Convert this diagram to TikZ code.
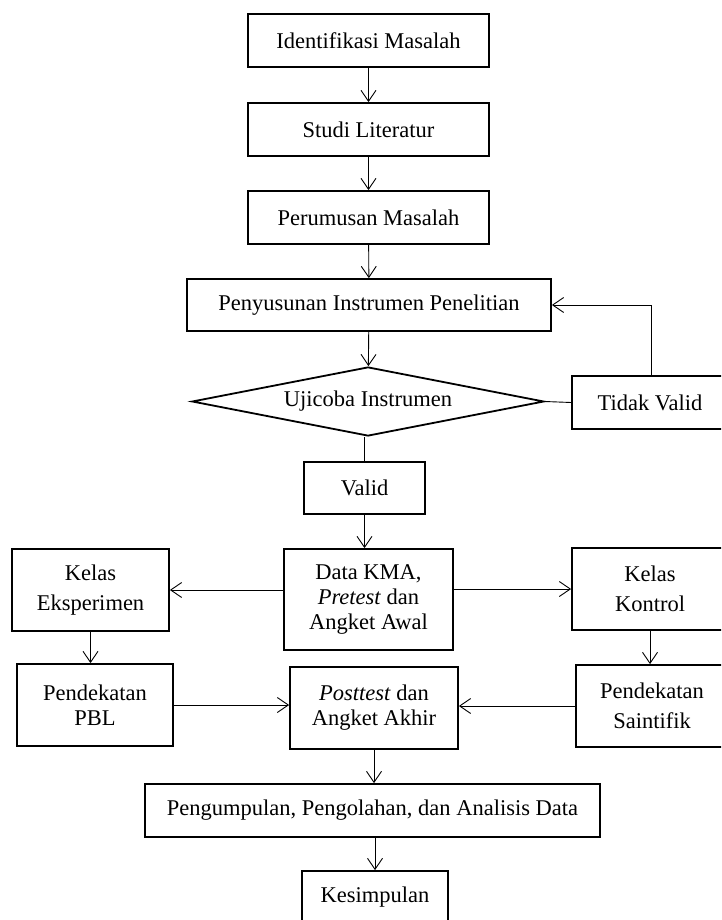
\documentclass[tikz,border=0pt]{standalone}
\usepackage{fontspec}
\setmainfont{Liberation Serif}
\usepackage{tikz}
\usetikzlibrary{arrows.meta, shapes.geometric}
\tikzset{
  procbox/.style={draw, line width=1.8pt, align=center, inner sep=0pt,
    font=\fontsize{22.5}{25}\selectfont},
  widebox/.style={procbox, font=\fontsize{22.5}{30}\selectfont},
  decbox/.style={draw, diamond, line width=1.8pt, inner sep=0pt, aspect=5.1,
    minimum width=352pt, minimum height=69pt, font=\fontsize{22.5}{25}\selectfont},
  flowarr/.style={-{Straight Barb[length=11pt, width=15pt]}, line width=0.9pt},
  flowline/.style={line width=0.9pt},
}

\begin{document}
\begin{tikzpicture}[x=1pt, y=-1pt]
    \useasboundingbox (0,0) rectangle (721,920);
    \clip (0,0) rectangle (721,920);
    \node[procbox, minimum width=241pt, minimum height=53pt] (ident) at (368.5,40.5) {Identifikasi Masalah};
    \node[procbox, minimum width=241pt, minimum height=53pt] (studi) at (368.5,129.5) {Studi Literatur};
    \node[procbox, minimum width=241pt, minimum height=53pt] (rumus) at (368.5,217.5) {Perumusan Masalah};
    \node[procbox, minimum width=364pt, minimum height=52pt] (susun) at (369,305) {Penyusunan Instrumen Penelitian};
    \node[decbox] (uji) at (368,401.5) {Ujicoba Instrumen};
    \node[procbox, minimum width=180pt, minimum height=53pt] (tidak) at (662,402.5)
      {Tidak Valid\hspace*{24pt}};
    \node[procbox, minimum width=121pt, minimum height=52pt] (valid) at (364.5,488) {Valid};
    \node[procbox, minimum width=169pt, minimum height=101pt] (data) at (368.5,599.5)
      {Data KMA,\\\textit{Pretest} dan\\Angket Awal};
    \node[widebox, minimum width=157pt, minimum height=82pt] (eksp) at (90.5,590) {Kelas\\Eksperimen};
    \node[widebox, minimum width=180pt, minimum height=82pt] (kontrol) at (662,589)
      {Kelas\hspace*{24pt}\\Kontrol\hspace*{24pt}};
    \node[procbox, minimum width=156pt, minimum height=82pt] (pbl) at (95,705) {Pendekatan\\PBL};
    \node[procbox, minimum width=168pt, minimum height=82pt] (post) at (374,708)
      {\textit{Posttest} dan\\Angket Akhir};
    \node[widebox, minimum width=176pt, minimum height=82pt] (saintifik) at (664,706)
      {Pendekatan\hspace*{24pt}\\Saintifik\hspace*{24pt}};
    \node[procbox, minimum width=455pt, minimum height=53pt] (olah) at (372.5,810.5)
      {Pengumpulan, Pengolahan, dan Analisis Data};
    \node[procbox, minimum width=146pt, minimum height=53pt] (simpul) at (375,897.5) {Kesimpulan};
    \draw[flowarr] (ident)--(studi); \draw[flowarr] (studi)--(rumus); \draw[flowarr] (rumus)--(susun);
    \draw[flowarr] (susun)--(uji);
    \draw[flowline] (uji.east)--(tidak.west);
    \draw[flowarr] ([xshift=-11pt]tidak.north) |- (susun.east);
    \draw[flowline] (valid.north)--(valid.north |- uji.south);
    \draw[flowarr] (valid.south)--(valid.south |- data.north);
    \draw[flowarr] (data.west |- eksp.east)--(eksp.east);
    \draw[flowarr] (data.east |- kontrol.west)--(kontrol.west);
    \draw[flowarr] (eksp.south)--(eksp.south |- pbl.north);
    \draw[flowarr] ([xshift=-12pt]kontrol.south)--([xshift=-12pt]kontrol.south |- saintifik.north);
    \draw[flowarr] (pbl.east)--(pbl.east -| post.west);
    \draw[flowarr] (saintifik.west)--(saintifik.west -| post.east);
    \draw[flowarr] (post)--(post |- olah.north);
    \draw[flowarr] (olah.south -| simpul)--(simpul);
  \end{tikzpicture}
\end{document}
